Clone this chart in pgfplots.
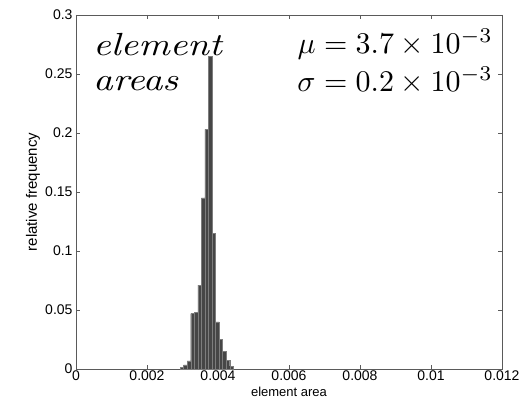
\documentclass[border=0pt]{standalone}
\usepackage{fontspec}
\setsansfont{Liberation Sans}
\usepackage{graphicx}
\usepackage{pgfplots}
\pgfplotsset{compat=1.18}
\definecolor{axgray}{RGB}{90,90,90}
\definecolor{barfill}{RGB}{70,70,70}
\definecolor{baredge}{RGB}{125,125,125}
\begin{document}
\begin{tikzpicture}
\begin{axis}[
  scale only axis,
  width=426pt, height=354pt,
  xmin=0, xmax=0.012, ymin=0, ymax=0.3,
  scaled x ticks=false, scaled y ticks=false,
  axis line style={axgray, line width=0.6pt},
  tick style={axgray, line width=0.6pt},
  tickpos=both, tick align=inside,
  major tick length=4pt,
  xtick={0,0.002,0.004,0.006,0.008,0.01,0.012},
  xticklabels={0,0.002,0.004,0.006,0.008,0.01,0.012},
  ytick={0,0.05,0.1,0.15,0.2,0.25,0.3},
  yticklabels={0,0.05,0.1,0.15,0.2,0.25,0.3},
  ticklabel style={font=\fontsize{14}{16}\selectfont\sffamily, text=black},
  xticklabel style={inner sep=2pt},
  /pgf/number format/assume math mode=true,
  xlabel={element area},
  ylabel={relative frequency},
  xlabel style={font=\fontsize{13}{15}\selectfont\sffamily, at={(rel axis cs:0.5,0)}, anchor=north, yshift=-18pt, inner sep=0pt},
  ylabel style={font=\fontsize{15}{17}\selectfont\sffamily, at={(rel axis cs:0,0.5)}, anchor=center, yshift=43pt, inner sep=0pt},
  clip=false,
]
\addplot[ybar, bar width=0.0001, fill=barfill, draw=baredge, line width=0.3pt]
coordinates {
(0.00298,0.0015)
(0.00308,0.0036)
(0.00318,0.0068)
(0.00328,0.047)
(0.00338,0.048)
(0.00348,0.071)
(0.00358,0.145)
(0.00368,0.203)
(0.00378,0.265)
(0.00388,0.115)
(0.00398,0.040)
(0.00408,0.025)
(0.00418,0.015)
(0.00428,0.0076)
(0.00438,0.0025)
};
\node[anchor=base west, inner sep=0pt] at (axis cs:0.00048,0.2661)
  {\scalebox{3.84}[3.2]{\itshape element}};
\node[anchor=base west, inner sep=0pt] at (axis cs:0.00048,0.2358)
  {\scalebox{3.84}[3.2]{\itshape areas}};
\node[anchor=base east, inner sep=0pt] at (axis cs:0.01175,0.2675)
  {\scalebox{3}{$\mu = 3.7\times10^{-3}$}};
\node[anchor=base east, inner sep=0pt] at (axis cs:0.01175,0.235)
  {\scalebox{3}{$\sigma = 0.2\times10^{-3}$}};
\coordinate (bl) at (rel axis cs:0,0);
\coordinate (tr) at (rel axis cs:1,1);
\end{axis}
\pgfresetboundingbox
\path ([shift={(-76pt,-35pt)}]bl) rectangle ([shift={(25pt,15pt)}]tr);
\end{tikzpicture}
\end{document}
